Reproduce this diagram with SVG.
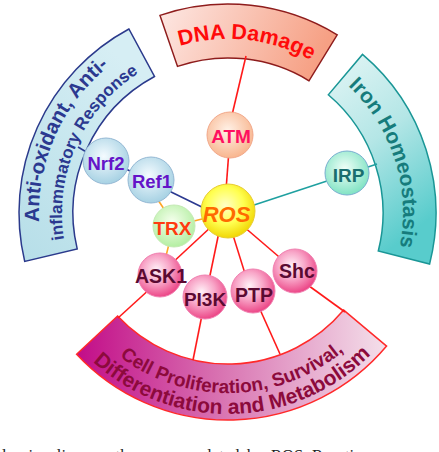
<svg xmlns="http://www.w3.org/2000/svg" width="439" height="452" viewBox="0 0 439 452">
<defs>
<style>
.bt{font-family:"Liberation Sans",Arial,sans-serif;font-weight:bold;}
.nt{font-family:"Liberation Sans",Arial,sans-serif;font-weight:bold;text-anchor:middle;}
.red{stroke:#ff1a1a;stroke-width:1.6;fill:none;}
.teal{stroke:#1fa0a0;stroke-width:1.6;fill:none;}
.blue{stroke:#2b3990;stroke-width:1.6;fill:none;}
.orng{stroke:#ffa524;stroke-width:1.6;fill:none;}
.cap{font-family:"Liberation Serif","Times New Roman",serif;font-size:16.5px;fill:#222;}
</style>
<linearGradient id="gDNA" x1="0" y1="0" x2="1" y2="0.2">
<stop offset="0" stop-color="#fde8e4"/><stop offset="1" stop-color="#f6a084"/>
</linearGradient>
<linearGradient id="gIron" x1="0" y1="0" x2="0.4" y2="1">
<stop offset="0" stop-color="#e4f6f6"/><stop offset="0.5" stop-color="#b4e6e6"/><stop offset="1" stop-color="#58cccc"/>
</linearGradient>
<linearGradient id="gAnti" x1="0.5" y1="0" x2="0" y2="1">
<stop offset="0" stop-color="#d6eef4"/><stop offset="1" stop-color="#b6dee8"/>
</linearGradient>
<linearGradient id="gCell" x1="0" y1="0" x2="1" y2="0">
<stop offset="0" stop-color="#c20c88"/><stop offset="0.45" stop-color="#d870b0"/><stop offset="1" stop-color="#f4e0ea"/>
</linearGradient>
<radialGradient id="rPink" cx="0.42" cy="0.38" r="0.62">
<stop offset="0" stop-color="#fff2f8"/><stop offset="0.5" stop-color="#f8a6c8"/><stop offset="1" stop-color="#ec4888"/>
</radialGradient>
<radialGradient id="rYel" cx="0.45" cy="0.4" r="0.62">
<stop offset="0" stop-color="#ffffc8"/><stop offset="0.55" stop-color="#ffff50"/><stop offset="1" stop-color="#f0d400"/>
</radialGradient>
<radialGradient id="rPeach" cx="0.45" cy="0.4" r="0.62">
<stop offset="0" stop-color="#fff2e8"/><stop offset="1" stop-color="#f8b48c"/>
</radialGradient>
<radialGradient id="rBlue" cx="0.45" cy="0.4" r="0.62">
<stop offset="0" stop-color="#f4fbff"/><stop offset="1" stop-color="#a4d0e2"/>
</radialGradient>
<radialGradient id="rGreen" cx="0.45" cy="0.4" r="0.62">
<stop offset="0" stop-color="#f6ffee"/><stop offset="1" stop-color="#b2eea0"/>
</radialGradient>
<radialGradient id="rTeal" cx="0.45" cy="0.4" r="0.62">
<stop offset="0" stop-color="#f0fff8"/><stop offset="1" stop-color="#7ee2c2"/>
</radialGradient>
<path id="pDNA" d="M 171.3 48.5 A 174 174 0 0 1 318.9 64.6"/>
<path id="pIron" d="M 341.2 79.5 A 175 175 0 0 1 397.6 255.9"/>
<path id="pAnti1" d="M 44.1 256.8 A 189 189 0 0 1 138.4 46.6"/>
<path id="pAnti2" d="M 66.5 251.5 A 166 166 0 0 1 149.3 66.8"/>
<path id="pCell1" d="M 96.3 335.8 A 180 180 0 0 0 365.9 328.7"/>
<path id="pCell2" d="M 81.0 350.1 A 201 201 0 0 0 382.0 342.2"/>
</defs>

<g id="band-dna">
<path d="M 160.0 15.4 A 209 209 0 0 1 337.2 34.8 L 309.0 80.8 A 155 155 0 0 0 177.5 66.4 Z" fill="url(#gDNA)" stroke="#8e1c1c" stroke-width="1.5"/>
<text class="bt" font-size="21.5" fill="#ff0a0a"><textPath href="#pDNA" startOffset="50%" text-anchor="middle">DNA Damage</textPath></text>
</g>
<g id="band-iron">
<path d="M 362.5 54.4 A 208 208 0 0 1 429.6 264.0 L 378.3 251.0 A 155 155 0 0 0 328.3 94.8 Z" fill="url(#gIron)" stroke="#1a9696" stroke-width="1.5"/>
<text class="bt" font-size="21" fill="#167c7c"><textPath href="#pIron" startOffset="50%" text-anchor="middle">Iron Homeostasis</textPath></text>
</g>
<g id="band-anti">
<path d="M 24.7 261.4 A 209 209 0 0 1 128.9 29.0 L 154.5 76.5 A 155 155 0 0 0 77.2 248.9 Z" fill="url(#gAnti)" stroke="#2b3a8c" stroke-width="1.5"/>
<text class="bt" font-size="20.5" fill="#2b3990"><textPath href="#pAnti1" startOffset="50%" text-anchor="middle">Anti-oxidant, Anti-</textPath></text>
<text class="bt" font-size="17" fill="#2b3990"><textPath href="#pAnti2" startOffset="50%" text-anchor="middle">inflammatory Response</textPath></text>
</g>
<g id="band-cell">
<path d="M 76.6 354.2 A 207 207 0 0 0 386.6 346.1 L 343.7 310.1 A 151 151 0 0 1 117.6 316.0 Z" fill="url(#gCell)" stroke="#ff2a2a" stroke-width="1.5"/>
<text class="bt" font-size="19" fill="#8c0a3c"><textPath href="#pCell1" startOffset="50%" text-anchor="middle">Cell Proliferation, Survival,</textPath></text>
<text class="bt" font-size="21" fill="#8c0a3c"><textPath href="#pCell2" startOffset="50%" text-anchor="middle">Differentiation and Metabolism</textPath></text>
</g>

<g id="connectors">
<line class="red" x1="246" y1="56" x2="232" y2="115"/>
<line class="red" x1="229" y1="150" x2="226" y2="190"/>
<line class="red" x1="212" y1="226" x2="170" y2="265"/>
<line class="red" x1="219" y1="232" x2="208" y2="285"/>
<line class="red" x1="232" y1="232" x2="247" y2="280"/>
<line class="red" x1="243" y1="226" x2="285" y2="262"/>
<line class="red" x1="152" y1="287" x2="118" y2="318"/>
<line class="red" x1="203" y1="310" x2="193" y2="360"/>
<line class="red" x1="258" y1="305" x2="280" y2="354"/>
<line class="red" x1="305" y1="283" x2="345" y2="312"/>
<line class="teal" x1="245" y1="208" x2="330" y2="180"/>
<line class="teal" x1="365" y1="168" x2="377" y2="164"/>
<line class="blue" x1="165" y1="189" x2="210" y2="211"/>
<line class="blue" x1="120" y1="166" x2="138" y2="175"/>
<line class="blue" x1="78" y1="147" x2="88" y2="153"/>
<line class="orng" x1="156" y1="197" x2="166" y2="212"/>
<line class="orng" x1="190" y1="222" x2="210" y2="217"/>
<line class="orng" x1="170" y1="240" x2="165" y2="260"/>
</g>

<g id="node-atm">
<circle cx="230" cy="135" r="23" fill="url(#rPeach)" stroke="#f2a88a" stroke-width="1"/>
<text class="nt" x="231" y="143" font-size="19" fill="#ff1060">ATM</text>
</g>
<g id="node-irp">
<circle cx="347" cy="173" r="22" fill="url(#rTeal)" stroke="#78aed0" stroke-width="1"/>
<text class="nt" x="348.5" y="182" font-size="19" fill="#1a6e6e">IRP</text>
</g>
<g id="node-nrf2">
<circle cx="106" cy="161" r="23" fill="url(#rBlue)" stroke="#94b8d4" stroke-width="1"/>
<text class="nt" x="106" y="170" font-size="18.5" fill="#6414c8">Nrf2</text>
</g>
<g id="node-ref1">
<circle cx="151" cy="180" r="23" fill="url(#rBlue)" stroke="#94b8d4" stroke-width="1"/>
<text class="nt" x="152" y="188" font-size="18.5" fill="#6414c8">Ref1</text>
</g>
<g id="node-trx">
<circle cx="174" cy="226" r="21" fill="url(#rGreen)" stroke="#c4eab4" stroke-width="1"/>
<text class="nt" x="172.5" y="235" font-size="19" fill="#ff3a10">TRX</text>
</g>
<g id="node-ros">
<circle cx="228" cy="211" r="27" fill="url(#rYel)" stroke="#e8cc30" stroke-width="1"/>
<text class="nt" x="226.5" y="222" font-size="22" font-style="italic" fill="#ff6a00">ROS</text>
</g>
<g id="node-ask1">
<circle cx="160" cy="275" r="22" fill="url(#rPink)" stroke="#f080b0" stroke-width="1"/>
<text class="nt" x="161" y="283" font-size="19.5" fill="#5a0a32">ASK1</text>
</g>
<g id="node-pi3k">
<circle cx="205" cy="297" r="22" fill="url(#rPink)" stroke="#f080b0" stroke-width="1"/>
<text class="nt" x="205" y="306" font-size="19" fill="#5a0a32">PI3K</text>
</g>
<g id="node-ptp">
<circle cx="253" cy="291" r="22" fill="url(#rPink)" stroke="#f080b0" stroke-width="1"/>
<text class="nt" x="254" y="302" font-size="19.5" fill="#5a0a32">PTP</text>
</g>
<g id="node-shc">
<circle cx="295" cy="271" r="22" fill="url(#rPink)" stroke="#f080b0" stroke-width="1"/>
<text class="nt" x="297" y="278" font-size="19.5" fill="#5a0a32">Shc</text>
</g>

<text class="cap" y="461"><tspan x="2">l</tspan><tspan x="22">signaling</tspan><tspan x="100">pathways</tspan><tspan x="178">regulated</tspan><tspan x="247">by</tspan><tspan x="271">ROS.</tspan><tspan x="312">Reactive</tspan></text>
</svg>
